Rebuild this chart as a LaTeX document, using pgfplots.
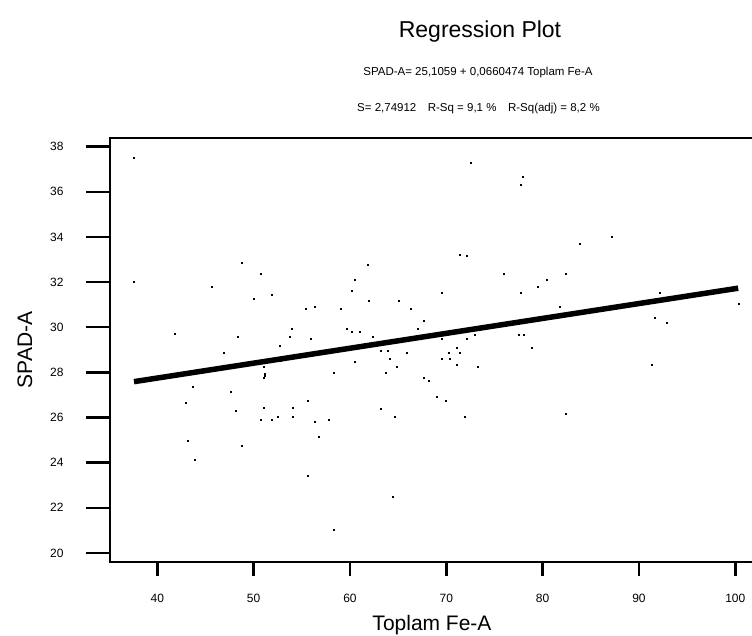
\documentclass[border=0pt]{standalone}
\usepackage{fontspec}
\setmainfont{Liberation Sans}
\usepackage{pgfplots}
\pgfplotsset{compat=1.18}
\begin{document}
\begin{tikzpicture}
\useasboundingbox (0pt,0pt) rectangle (752pt,-636pt);
\begin{axis}[
  at={(110pt,-561.7pt)}, anchor=south west,
  scale only axis, width=644pt, height=423.7pt,
  xmin=35.09, xmax=101.94, ymin=19.61, ymax=38.385,
  axis line style={line width=2.4pt},
  xtick={40,50,...,100}, ytick={20,22,...,38},
  tick align=outside, xtick pos=bottom, ytick pos=left,
  xtick style={line width=2.4pt, black, /pgfplots/major tick length=14pt},
  ytick style={line width=2.4pt, black, /pgfplots/major tick length=24pt},
  ticklabel style={font=\fontsize{12}{14}\selectfont},
  xticklabel style={anchor=north, inner sep=0pt, yshift=-28.3pt},
  yticklabel style={anchor=east, inner sep=0pt, xshift=-42pt},
  /pgf/number format/assume math mode=true,
  title={Regression Plot},
  title style={at={(axis description cs:0.5,1)}, anchor=base, xshift=48pt, yshift=94pt, font=\fontsize{23}{27}\selectfont},
  xlabel={Toplam Fe-A},
  xlabel style={at={(axis description cs:0.5,0)}, anchor=base, yshift=-68.3pt, font=\fontsize{21}{25}\selectfont},
  ylabel={SPAD-A},
  ylabel style={at={(axis description cs:-0.1211,0.5)}, anchor=base, font=\fontsize{21}{25}\selectfont},
]
\addplot[only marks, mark=square*, mark size=0.5pt, black] table {
x y
37.6 37.53
48.8 32.88
50.7 32.39
37.6 32.02
45.6 31.81
49.97 31.28
51.9 31.42
55.4 30.80
56.3 30.93
53.9 29.95
53.7 29.60
55.9 29.47
52.7 29.20
48.3 29.60
41.8 29.70
46.85 28.85
52.8 28.52
51.0 28.27
51.2 27.96
51.2 27.87
51.0 27.78
43.7 27.38
47.6 27.16
42.9 26.67
48.1 26.28
51.0 26.42
54.1 26.42
55.6 26.76
50.7 25.92
51.9 25.92
52.5 26.05
54.1 26.05
56.3 25.83
56.8 25.17
43.2 24.95
48.8 24.73
43.9 24.11
55.6 23.40
72.5 37.31
71.35 33.23
72.1 33.17
61.8 32.76
60.45 32.12
76.0 32.35
60.2 31.64
69.5 31.55
61.9 31.19
65.1 31.19
59.0 30.80
66.3 30.80
67.7 30.31
59.7 29.95
60.2 29.82
61.0 29.82
67.0 29.95
62.4 29.60
69.5 29.47
72.1 29.47
72.9 29.69
77.5 29.69
63.15 28.98
63.9 28.98
71.1 29.11
70.2 28.85
71.35 28.85
65.85 28.85
64.1 28.62
69.5 28.62
70.4 28.62
60.45 28.49
71.1 28.36
64.8 28.27
73.3 28.27
58.3 28.00
63.7 28.00
67.7 27.78
68.2 27.65
69.0 26.94
69.9 26.76
63.15 26.41
64.6 26.05
71.9 26.05
57.75 25.92
64.4 22.51
58.3 21.05
77.9 36.69
77.7 36.33
87.2 33.99
83.8 33.72
80.4 32.12
82.35 32.35
79.45 31.81
77.7 31.55
92.1 31.55
81.8 30.93
100.3 31.06
91.6 30.44
92.9 30.22
78.0 29.69
78.9 29.11
91.3 28.36
82.35 26.19
};
\addplot[black, line width=5.5pt, line join=round] table {
x y
37.58 27.588
50 28.408
60 29.069
70 29.729
80 30.390
90 31.050
100.3 31.730
};
\end{axis}
\node[anchor=base, font=\fontsize{11.5}{13}\selectfont] at (478pt,-76pt) {SPAD-A= 25,1059 + 0,0660474 Toplam Fe-A};
\node[anchor=base, font=\fontsize{11.5}{13}\selectfont] at (478.5pt,-112pt) {S= 2,74912\quad R-Sq = 9,1 \%\quad R-Sq(adj) = 8,2 \%};
\end{tikzpicture}
\end{document}
